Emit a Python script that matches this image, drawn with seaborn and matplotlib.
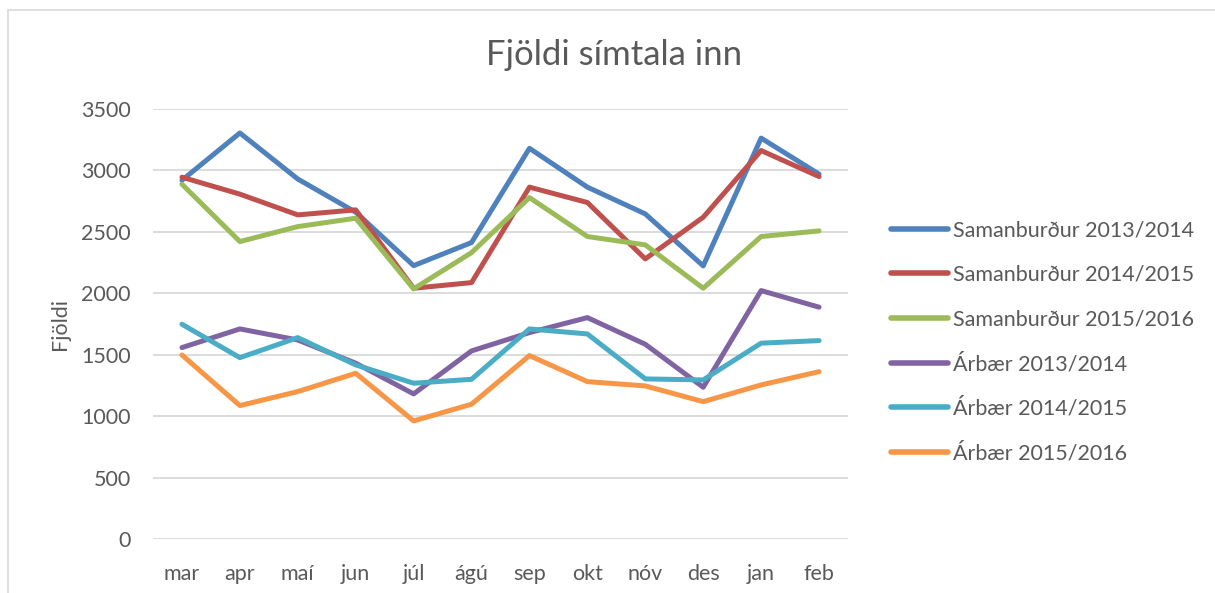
import matplotlib
matplotlib.use("Agg")
import matplotlib.pyplot as plt
import pandas as pd
import seaborn as sns
from matplotlib.patches import Rectangle

# data
months = ["mar", "apr", "maí", "jun", "júl", "ágú", "sep", "okt", "nóv", "des", "jan", "feb"]
series_names = [
    "Samanburður 2013/2014",
    "Samanburður 2014/2015",
    "Samanburður 2015/2016",
    "Árbær 2013/2014",
    "Árbær 2014/2015",
    "Árbær 2015/2016",
]
sam_1314 = [2920, 3305, 2930, 2660, 2225, 2413, 3180, 2864, 2646, 2223, 3263, 2970]
sam_1415 = [2945, 2807, 2638, 2679, 2041, 2087, 2864, 2739, 2280, 2619, 3162, 2950]
sam_1516 = [2888, 2421, 2543, 2611, 2036, 2331, 2779, 2462, 2394, 2041, 2462, 2508]
arb_1314 = [1558, 1710, 1620, 1431, 1181, 1531, 1680, 1802, 1585, 1235, 2022, 1887]
arb_1415 = [1748, 1476, 1639, 1417, 1268, 1300, 1710, 1669, 1303, 1295, 1594, 1615]
arb_1516 = [1498, 1086, 1200, 1349, 961, 1097, 1493, 1281, 1246, 1118, 1254, 1362]
all_values = [sam_1314, sam_1415, sam_1516, arb_1314, arb_1415, arb_1516]

colors = ["#4F81BD", "#C0504D", "#9BBB59", "#8064A2", "#4BACC6", "#F79646"]

rows = []
for name, vals in zip(series_names, all_values):
    for m, v in zip(months, vals):
        rows.append({"Mánuður": m, "Fjöldi": v, "Röð": name})
df = pd.DataFrame(rows)

sns.set_theme(style="white")
plt.rcParams["font.family"] = ["Lato", "DejaVu Sans"]
text_color = "#595959"
grid_color = "#D9D9D9"

fig = plt.figure(figsize=(12.15, 5.93), dpi=100)
ax = fig.add_axes([153 / 1215, 1 - 539 / 593, (848 - 153) / 1215, (539 - 109) / 593])

# outer chart border
fig.patches.append(Rectangle((8 / 1215, -0.1), 1.2, 1 - 10 / 593 + 0.1, transform=fig.transFigure,
                             fill=False, edgecolor=grid_color, linewidth=1.2))

sns.lineplot(data=df, x="Mánuður", y="Fjöldi", hue="Röð", hue_order=series_names,
             palette=colors, sort=False, linewidth=3.6, ax=ax)

ax.set_xlim(-0.5, len(months) - 0.5)
ax.set_ylim(0, 3500)
ax.set_yticks(range(0, 3501, 500))
for s in ax.spines.values():
    s.set_visible(False)
ax.grid(axis="y", color=grid_color, linewidth=1.3)
ax.set_axisbelow(True)
ax.tick_params(axis="both", length=0, labelsize=15.5, colors=text_color)
ax.tick_params(axis="y", pad=16)
ax.tick_params(axis="x", pad=18)
ax.set_xlabel("")
ax.set_ylabel("Fjöldi", fontsize=15.5, color=text_color, labelpad=8)

fig.text(614 / 1215, 1 - 55 / 593, "Fjöldi símtala inn", ha="center", va="center",
         fontsize=25, color=text_color)

handles, labels = ax.get_legend_handles_labels()
ax.legend(handles, labels, loc="upper left", bbox_to_anchor=(882 / 1215, 1 - 212 / 593),
          bbox_transform=fig.transFigure, frameon=False, fontsize=15.5,
          labelcolor=text_color, handlelength=2.65, handletextpad=0.25, labelspacing=1.13,
          borderaxespad=0)
for line in ax.get_legend().get_lines():
    line.set_linewidth(4)

fig.savefig("out.png", dpi=100, facecolor="white")
